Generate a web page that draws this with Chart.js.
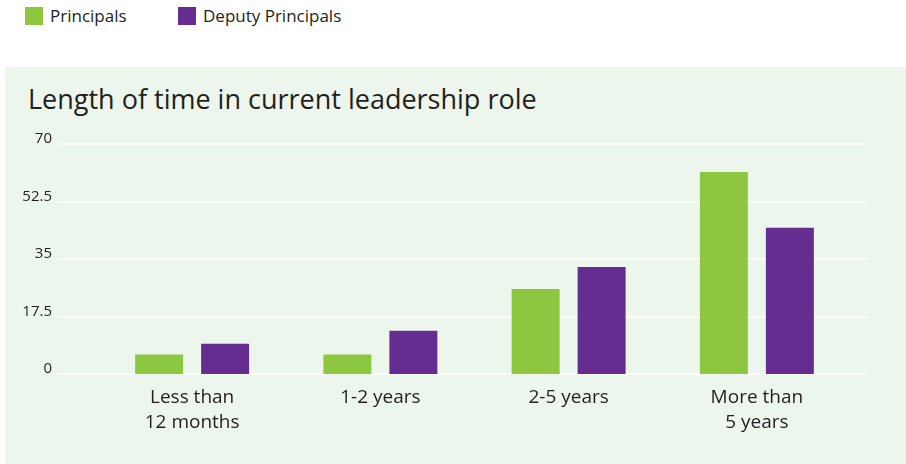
<!DOCTYPE html>
<html>
<head>
<meta charset="utf-8">
<script src="https://cdn.jsdelivr.net/npm/chart.js@4"></script>
<style>
  body { margin: 0; background: #fff; font-family: "Open Sans", sans-serif; color: #231f20; }
  .legend { position: absolute; top: 7px; left: 25px; font-size: 17px; }
  .legend span { position: absolute; white-space: nowrap; line-height: 18px; }
  .legend i { display: inline-block; width: 18px; height: 18px; vertical-align: top; margin-right: 7px; }
  .panel { position: absolute; left: 5px; top: 67px; width: 901px; height: 397px; background: #edf6ec; }
  .panel h1 { position: absolute; left: 23px; top: 19px; margin: 0; font-size: 27px; line-height: 26px; font-weight: normal; white-space: nowrap; }
  .panel canvas { position: absolute; left: 0; top: 0; }
</style>
</head>
<body>
<div class="legend">
  <span style="left:0"><i style="background:#8dc63f"></i>Principals</span>
  <span style="left:153px"><i style="background:#662d91"></i>Deputy Principals</span>
</div>
<div class="panel">
  <h1>Length of time in current leadership role</h1>
  <canvas id="roleChart" width="901" height="397"></canvas>
</div>
<script>
const categories = [['Less than', '12 months'], '1-2 years', '2-5 years', ['More than', '5 years']];
const principals = [5.9, 5.9, 25.9, 61.5];
const deputyPrincipals = [9.2, 13.2, 32.6, 44.5];
const yTicks = [0, 17.5, 35, 52.5, 70];

// white grid lines run wider than the bar area in the original
const gridLines = {
  id: 'gridLines',
  beforeDatasetsDraw(chart) {
    const ctx = chart.ctx;
    const y = chart.scales.y;
    ctx.save();
    ctx.strokeStyle = '#fbfdfa';
    ctx.lineWidth = 2;
    yTicks.forEach(v => {
      const py = Math.round(y.getPixelForValue(v));
      ctx.beginPath();
      ctx.moveTo(53, py);
      ctx.lineTo(863, py);
      ctx.stroke();
    });
    ctx.restore();
  }
};

new Chart(document.getElementById('roleChart').getContext('2d'), {
  type: 'bar',
  data: {
    labels: categories,
    datasets: [{
      label: 'Principals',
      data: principals,
      backgroundColor: '#8dc63f',
      categoryPercentage: 0.701,
      barPercentage: 0.727
    }, {
      label: 'Deputy Principals',
      data: deputyPrincipals,
      backgroundColor: '#662d91',
      categoryPercentage: 0.701,
      barPercentage: 0.727
    }]
  },
  options: {
    responsive: false,
    animation: false,
    layout: { padding: { left: 0, right: 55, top: 77, bottom: 0 } },
    plugins: {
      legend: { display: false },
      tooltip: { enabled: false }
    },
    scales: {
      x: {
        grid: { display: false, drawTicks: false },
        border: { display: false },
        ticks: {
          color: '#231f20',
          font: { family: 'Open Sans', size: 19, lineHeight: 1.33 },
          padding: 11,
          maxRotation: 0,
          autoSkip: false
        },
        afterFit(scale) { scale.height = 90; }
      },
      y: {
        min: 0,
        max: 70,
        afterBuildTicks(scale) { scale.ticks = yTicks.map(v => ({ value: v })); },
        grid: { display: false, drawTicks: false },
        border: { display: false },
        ticks: {
          color: '#231f20',
          font: { family: 'Open Sans', size: 15 },
          padding: 46,
          labelOffset: -5
        },
        afterFit(scale) { scale.width = 93; }
      }
    }
  },
  plugins: [gridLines]
});
</script>
</body>
</html>
